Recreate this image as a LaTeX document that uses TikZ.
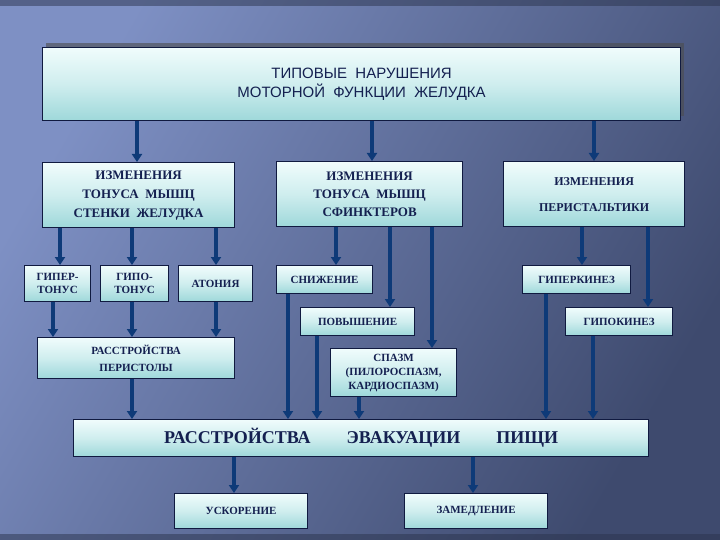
\documentclass[tikz,border=0pt]{standalone}
\usepackage{fontspec}
\setmainfont{Liberation Serif}
\newfontfamily\arialf{Liberation Sans}
\usetikzlibrary{arrows.meta,shadows}
\definecolor{bgA}{HTML}{3E4A6E}
\definecolor{bgB}{HTML}{7E90C4}
\definecolor{bxA}{HTML}{9ED8DA}
\definecolor{bxB}{HTML}{F0FCFC}
\definecolor{ink}{HTML}{142050}
\definecolor{arr}{HTML}{0E3A78}
\tikzset{
  bx/.style={draw=ink!80!black,line width=1.2pt,top color=bxB,bottom color=bxA,middle color=bxB!60!bxA,
    font=\bfseries\fontsize{11}{13}\selectfont,text=ink,align=center,inner sep=1pt},
  ar/.style={draw=arr,line width=3.5pt,-{Triangle[width=10pt,length=8pt]}}
}
\begin{document}
\begin{tikzpicture}[x=1pt,y=-1pt]
\useasboundingbox (0,0) rectangle (720,540);
\shade[left color=bgB,right color=bgA,shading angle=60] (0,0) rectangle (720,540);
\fill[bgA!70!black,opacity=0.5] (0,0) rectangle (720,6);
\fill[bgA!70!black,opacity=0.5] (0,534) rectangle (720,540);
% boxes
\fill[black!70,opacity=0.6] (46,43) rectangle (684,116);
\node[bx,minimum width=638,minimum height=73,font=\arialf\fontsize{15}{19}\selectfont,anchor=north west] (T) at (42,47)
 {ТИПОВЫЕ\ \ НАРУШЕНИЯ\\МОТОРНОЙ\ \ ФУНКЦИИ\ \ ЖЕЛУДКА};
\node[bx,minimum width=192,minimum height=65,anchor=north west,font=\bfseries\fontsize{13}{19}\selectfont] (A) at (42,162) {ИЗМЕНЕНИЯ\\ТОНУСА\ \ МЫШЦ\\СТЕНКИ\ \ ЖЕЛУДКА};
\node[bx,minimum width=186,minimum height=65,anchor=north west,font=\bfseries\fontsize{13}{18}\selectfont] (B) at (276,161) {ИЗМЕНЕНИЯ\\ТОНУСА\ \ МЫШЦ\\СФИНКТЕРОВ};
\node[bx,minimum width=181,minimum height=65,anchor=north west,font=\bfseries\fontsize{12}{26}\selectfont] (C) at (503,161) {ИЗМЕНЕНИЯ\\ПЕРИСТАЛЬТИКИ};
\node[bx,minimum width=66,minimum height=36,anchor=north west] (G1) at (24,265) {ГИПЕР-\\ТОНУС};
\node[bx,minimum width=68,minimum height=36,anchor=north west] (G2) at (100,265) {ГИПО-\\ТОНУС};
\node[bx,minimum width=74,minimum height=36,anchor=north west] (AT) at (178,265) {АТОНИЯ};
\node[bx,minimum width=96,minimum height=28,anchor=north west] (SN) at (276,265) {СНИЖЕНИЕ};
\node[bx,minimum width=108,minimum height=28,anchor=north west] (GK) at (522,265) {ГИПЕРКИНЕЗ};
\node[bx,minimum width=114,minimum height=28,anchor=north west] (PV) at (300,307) {ПОВЫШЕНИЕ};
\node[bx,minimum width=107,minimum height=28,anchor=north west] (GP) at (565,307) {ГИПОКИНЕЗ};
\node[bx,minimum width=126,minimum height=48,anchor=north west,font=\bfseries\fontsize{11}{14}\selectfont] (SP) at (330,348) {СПАЗМ\\(ПИЛОРОСПАЗМ,\\КАРДИОСПАЗМ)};
\node[bx,minimum width=197,minimum height=41,anchor=north west,font=\bfseries\fontsize{11}{17}\selectfont] (RP) at (37,337) {РАССТРОЙСТВА\\ПЕРИСТОЛЫ};
\node[bx,minimum width=575,minimum height=37,anchor=north west,font=\bfseries\fontsize{18}{20}\selectfont] (BIG) at (73,419) {РАССТРОЙСТВА\qquad ЭВАКУАЦИИ\qquad ПИЩИ};
\node[bx,minimum width=133,minimum height=35,anchor=north west] (US) at (174,493) {УСКОРЕНИЕ};
\node[bx,minimum width=143,minimum height=35,anchor=north west] (ZM) at (404,493) {ЗАМЕДЛЕНИЕ};
% arrows
\draw[ar] (T.south -| 137,0) -- (A.north -| 137,0);
\draw[ar] (T.south -| 372,0) -- (B.north -| 372,0);
\draw[ar] (T.south -| 594,0) -- (C.north -| 594,0);
\draw[ar] (A.south -| 60,0) -- (G1.north -| 60,0);
\draw[ar] (A.south -| 132,0) -- (G2.north -| 132,0);
\draw[ar] (A.south -| 216,0) -- (AT.north -| 216,0);
\draw[ar] (B.south -| 336,0) -- (SN.north -| 336,0);
\draw[ar] (B.south -| 390,0) -- (PV.north -| 390,0);
\draw[ar] (B.south -| 432,0) -- (SP.north -| 432,0);
\draw[ar] (C.south -| 582,0) -- (GK.north -| 582,0);
\draw[ar] (C.south -| 648,0) -- (GP.north -| 648,0);
\draw[ar] (G1.south -| 53,0) -- (RP.north -| 53,0);
\draw[ar] (G2.south -| 132,0) -- (RP.north -| 132,0);
\draw[ar] (AT.south -| 216,0) -- (RP.north -| 216,0);
\draw[ar] (RP.south -| 132,0) -- (BIG.north -| 132,0);
\draw[ar] (SN.south -| 288,0) -- (BIG.north -| 288,0);
\draw[ar] (PV.south -| 317,0) -- (BIG.north -| 317,0);
\draw[ar] (SP.south -| 359,0) -- (BIG.north -| 359,0);
\draw[ar] (GK.south -| 546,0) -- (BIG.north -| 546,0);
\draw[ar] (GP.south -| 593,0) -- (BIG.north -| 593,0);
\draw[ar] (BIG.south -| 234,0) -- (US.north -| 234,0);
\draw[ar] (BIG.south -| 473,0) -- (ZM.north -| 473,0);
\end{tikzpicture}
\end{document}
